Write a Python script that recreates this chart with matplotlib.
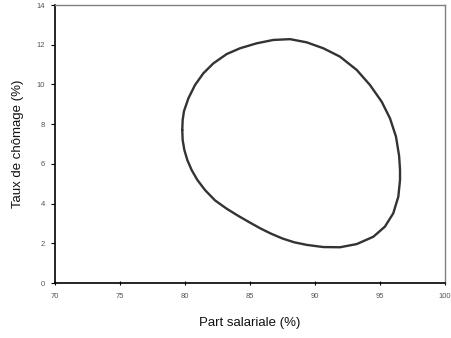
import matplotlib
matplotlib.use("Agg")
import matplotlib.pyplot as plt

# Data (closed cycle, clockwise from the left edge)
part_salariale = [79.79, 79.82, 79.92, 80.26, 80.77, 81.41, 82.18, 83.21, 84.23, 85.51,
                  86.79, 88.08, 89.36, 90.64, 91.92, 93.21, 94.23, 95.13, 95.77, 96.23,
                  96.47, 96.54, 96.54, 96.41, 96.02, 95.38, 94.49, 93.21, 91.92, 90.64,
                  89.36, 88.40, 87.50, 86.60, 85.80, 85.00, 84.10, 83.21, 82.31, 81.54,
                  80.95, 80.51, 80.18, 79.95, 79.82, 79.79]
taux_chomage = [7.70, 8.21, 8.65, 9.30, 9.97, 10.56, 11.06, 11.53, 11.82, 12.07,
                12.24, 12.28, 12.12, 11.82, 11.40, 10.73, 9.97, 9.13, 8.29, 7.37,
                6.40, 5.70, 5.19, 4.35, 3.51, 2.84, 2.33, 1.96, 1.80, 1.81,
                1.92, 2.05, 2.24, 2.49, 2.75, 3.04, 3.38, 3.74, 4.16, 4.68,
                5.19, 5.69, 6.19, 6.70, 7.20, 7.70]
xticks = [70, 75, 80, 85, 90, 95, 100]
yticks = [0, 2, 4, 6, 8, 10, 12, 14]

plt.rcParams['font.family'] = ['Liberation Sans', 'DejaVu Sans']
fig = plt.figure(figsize=(4.51, 3.38), dpi=100)
ax = fig.add_axes([55/451, 1-283/338, 390/451, 278/338])
ax.plot(part_salariale, taux_chomage, color='#333333', lw=1.7,
        solid_joinstyle='round', solid_capstyle='round', antialiased=True)
ax.set_xlim(70, 100)
ax.set_ylim(0, 14)
ax.set_xticks(xticks)
ax.set_yticks(yticks)
ax.tick_params(axis='both', labelsize=5.5, labelcolor='#555555', length=3, width=0.8)
ax.tick_params(axis='x', direction='inout', pad=6)
ax.tick_params(axis='y', pad=4)
for s in ['top', 'right']:
    ax.spines[s].set_color('#808080')
    ax.spines[s].set_linewidth(1.0)
for s in ['left', 'bottom']:
    ax.spines[s].set_color('black')
    ax.spines[s].set_linewidth(1.2)
ax.set_xlabel('Part salariale (%)', fontsize=9.5, color='#111111', labelpad=12)
ax.set_ylabel('Taux de chômage (%)', fontsize=9.5, color='#111111', labelpad=9)
fig.savefig('out.png', dpi=100)
